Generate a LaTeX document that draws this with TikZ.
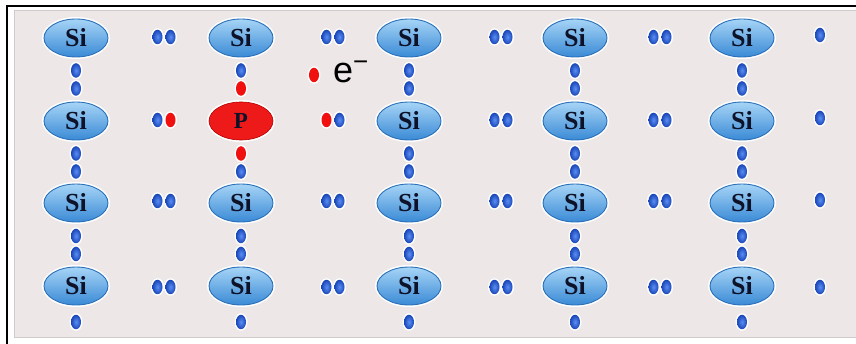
\documentclass[tikz,border=0pt]{standalone}
\usepackage{fontspec}
\setmainfont{Liberation Serif}
\newfontfamily\labelsans{Liberation Sans}
\usetikzlibrary{shapes.geometric}
\definecolor{panelbg}{HTML}{EDE7E7}
\definecolor{paneledge}{HTML}{CFCBCB}
\definecolor{silight}{HTML}{A6D4F6}
\definecolor{sidark}{HTML}{3A8AD6}
\definecolor{siedge}{HTML}{2A6FB8}
\definecolor{sitext}{HTML}{0E1228}
\definecolor{dotin}{HTML}{5A8EF2}
\definecolor{dotout}{HTML}{1A46B8}
\definecolor{dotred}{HTML}{F01010}
\definecolor{pred}{HTML}{EE1A1A}
\tikzset{
  atom/.style={ellipse, minimum width=64pt, minimum height=38pt, inner sep=0pt,
    draw=siedge, line width=0.9pt, top color=silight, bottom color=sidark,
    font=\fontsize{26}{26}\selectfont\bfseries, text=sitext,
    preaction={draw=white, line width=4pt}},
  patom/.style={ellipse, minimum width=64pt, minimum height=38pt, inner sep=0pt,
    draw=red!70!black, line width=0.6pt, fill=pred,
    font=\fontsize{23}{23}\selectfont\bfseries, text=sitext,
    preaction={draw=white, line width=4pt}},
  bdot/.style={ellipse, minimum width=10pt, minimum height=14.5pt, inner sep=0pt,
    inner color=dotin, outer color=dotout, preaction={draw=white, line width=3pt}},
  rdot/.style={ellipse, minimum width=10pt, minimum height=14.5pt, inner sep=0pt,
    fill=dotred, preaction={draw=white, line width=3pt}},
}
\begin{document}
\begin{tikzpicture}[x=1pt,y=-1pt]
  \useasboundingbox (0,0) rectangle (856,344);
  \fill[white] (0,0) rectangle (856,344);
  % grey panel and black frame
  \filldraw[fill=panelbg, draw=paneledge, line width=1pt] (14,11) rectangle (872,337);
  \draw[black, line width=2.6pt] (7,345) -- (7,6) -- (860,6);

  % lattice atoms
  \foreach \x [count=\c] in {76,241,409,575,742}{
    \foreach \y [count=\r] in {38,121,203,286}{
      \ifnum\r\c=22
        \node[patom] (a\r\c) at (\x,\y) {P};
      \else
        \node[atom] (a\r\c) at (\x,\y) {Si};
      \fi
    }
  }

  % vertical bonding pairs
  \foreach \x [count=\c] in {76,241,409,575,742}{
    \foreach \ya/\yb [count=\r] in {70.5/88.5, 153.5/171.5, 236/254}{
      \def\ca{bdot}\def\cb{bdot}
      \ifnum\c=2
        \ifnum\r=1 \def\cb{rdot}\fi
        \ifnum\r=2 \def\ca{rdot}\fi
      \fi
      \node[\ca] (v\c\r a) at (\x,\ya) {};
      \node[\cb] (v\c\r b) at (\x,\yb) {};
    }
    \node[bdot] (vb\c) at (\x,322) {};
  }

  % horizontal bonding pairs
  \foreach \xm [count=\c] in {164,333,501,660}{
    \foreach \y [count=\r] in {37,120,201,287}{
      \def\ca{bdot}\def\cb{bdot}
      \ifnum\r=2
        \ifnum\c=1 \def\cb{rdot}\fi
        \ifnum\c=2 \def\ca{rdot}\fi
      \fi
      \node[\ca] (h\r\c a) at (\xm-6.5,\y) {};
      \node[\cb] (h\r\c b) at (\xm+6.5,\y) {};
    }
  }

  % single electrons at the right edge
  \foreach \y [count=\r] in {35,118,200,287}{
    \node[bdot] (s\r) at (820,\y) {};
  }

  % free electron from phosphorus
  \node[rdot] (elec) at (314,75) {};
  \node[anchor=west, inner sep=0pt, text=black,
        font=\labelsans\fontsize{36}{36}\selectfont] (elabel) at (333,72) {e\raisebox{0.32em}{\fontsize{26}{26}\selectfont\textminus}};
\end{tikzpicture}
\end{document}
